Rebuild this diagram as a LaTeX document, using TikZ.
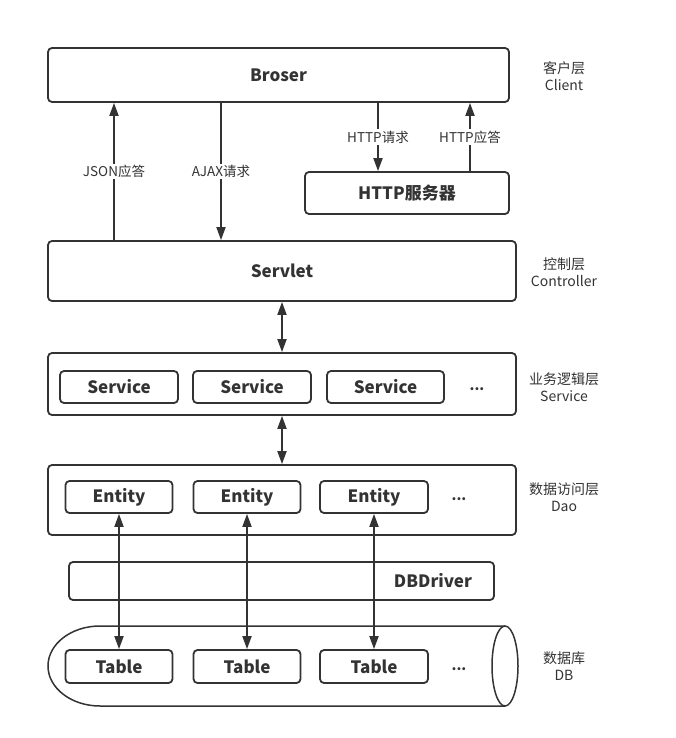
\documentclass[tikz,border=0pt]{standalone}
\usepackage{fontspec}
\setmainfont{Noto Sans CJK SC}
\usetikzlibrary{arrows.meta}
\definecolor{LineGray}{HTML}{333333}
\tikzset{
    block/.style={rectangle, draw=LineGray, line width=1.8pt, rounded corners=4pt, text=LineGray, inner sep=0pt, font=\fontsize{17}{20}\selectfont\bfseries},
    inblock/.style={block, minimum height=32pt},
    lbl/.style={font=\fontsize{14}{17}\selectfont, text=LineGray, align=center},
    note/.style={font=\fontsize{13.5}{16}\selectfont, text=LineGray, fill=white, inner sep=1.5pt},
    dots/.style={font=\fontsize{14}{16}\selectfont\bfseries, text=LineGray},
    arr/.style={-{Triangle[length=13pt,width=9pt]}, line width=1.8pt, draw=LineGray},
    arrboth/.style={{Triangle[length=13pt,width=9pt]}-{Triangle[length=13pt,width=9pt]}, line width=1.8pt, draw=LineGray},
}

\begin{document}
\begin{tikzpicture}[x=1pt, y=-1pt]
\useasboundingbox (0,0) rectangle (676,738);

% Client layer
\node[block, minimum width=461pt, minimum height=54pt] (broser) at (278.5,75) {Broser};
\node[block, minimum width=204pt, minimum height=42pt] (httpsrv) at (407,193) {HTTP服务器};

% Controller layer
\node[block, minimum width=468pt, minimum height=60pt] (servlet) at (282,271) {Servlet};

% Service layer
\node[block, minimum width=468pt, minimum height=62pt] (svclayer) at (282,384) {};
\node[inblock, minimum width=118pt] (svc1) at (119,387) {Service};
\node[inblock, minimum width=118pt] (svc2) at (252,387) {Service};
\node[inblock, minimum width=117pt] (svc3) at (385.5,387) {Service};
\node[dots] (svcdots) at (477,389) {...};

% Dao layer
\node[block, minimum width=468pt, minimum height=70pt] (daolayer) at (282,500) {};
\node[inblock, minimum width=107pt] (ent1) at (119,497) {Entity};
\node[inblock, minimum width=107pt] (ent2) at (247,497) {Entity};
\node[inblock, minimum width=108pt] (ent3) at (374,497) {Entity};
\node[dots] (entdots) at (459,499) {...};

% Driver
\node[block, minimum height=38pt, text width=381pt, inner xsep=22pt, align=right] (dbdriver) at (281.5,581) {DBDriver};

% Database cylinder
\draw[LineGray, line width=1.5pt] (100,626) -- (505,626)
    (100,706) -- (505,706)
    (100,626) arc[start angle=90, end angle=270, x radius=52, y radius=-40];
\draw[LineGray, line width=1.5pt] (505,666) ellipse[x radius=13, y radius=40];
\node[inblock, minimum width=107pt, minimum height=33pt] (tab1) at (119,666.5) {Table};
\node[inblock, minimum width=107pt, minimum height=33pt] (tab2) at (247,666.5) {Table};
\node[inblock, minimum width=108pt, minimum height=33pt] (tab3) at (374,666.5) {Table};
\node[dots] (tabdots) at (459,669) {...};

% Arrows
\coordinate (jsonx) at (114,0);
\coordinate (ajaxx) at (221,0);
\coordinate (reqx) at (378,0);
\coordinate (respx) at (470,0);
\draw[arr] (servlet.north -| jsonx) -- node[note] {JSON应答} (broser.south -| jsonx);
\draw[arr] (broser.south -| ajaxx) -- node[note] {AJAX请求} (servlet.north -| ajaxx);
\draw[arr] (broser.south -| reqx) -- node[note] {HTTP请求} (httpsrv.north -| reqx);
\draw[arr] (httpsrv.north -| respx) -- node[note] {HTTP应答} (broser.south -| respx);
\draw[arrboth] (servlet) -- (svclayer);
\draw[arrboth] (svclayer) -- (daolayer);
\draw[arrboth] (ent1) -- (tab1);
\draw[arrboth] (ent2) -- (tab2);
\draw[arrboth] (ent3) -- (tab3);

% Layer labels
\node[lbl] (lclient) at (564,76) {客户层\\Client};
\node[lbl] (lctrl) at (564,272) {控制层\\Controller};
\node[lbl] (lsvc) at (564,387) {业务逻辑层\\Service};
\node[lbl] (ldao) at (564,497) {数据访问层\\Dao};
\node[lbl] (ldb) at (564,666) {数据库\\DB};

\end{tikzpicture}
\end{document}
